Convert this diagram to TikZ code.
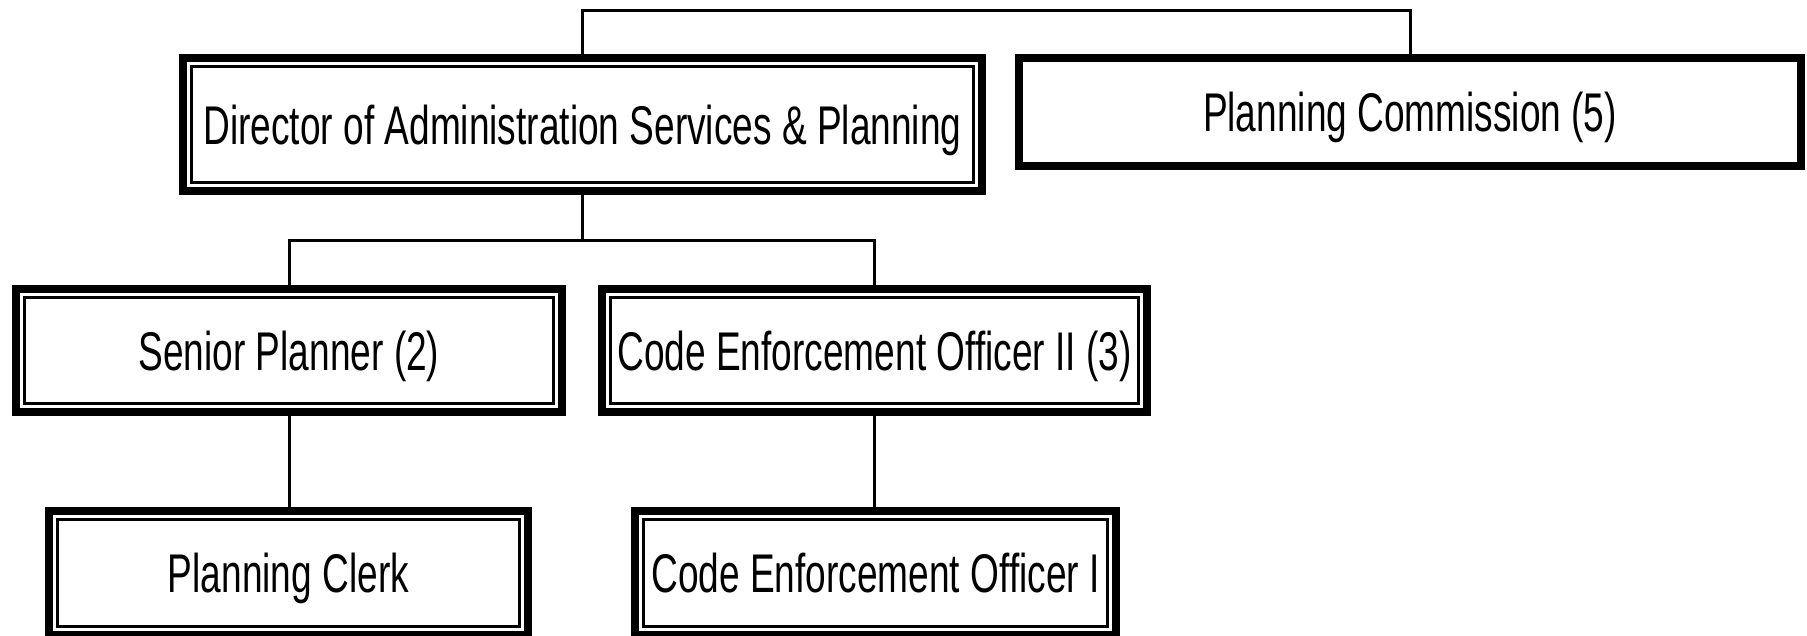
\documentclass[tikz,border=0pt]{standalone}
\usepackage{fontspec}
\setmainfont[FakeStretch=0.68]{Liberation Sans}
\begin{document}
\begin{tikzpicture}[x=1pt,y=-1pt,
  orgbox/.style={draw, line width=8pt, outer sep=0pt, inner sep=0pt,
    text height=39pt, text depth=0pt,
    font=\fontsize{54.5}{60}\selectfont, text=black},
  innerframe/.style={draw, line width=3pt},
  link/.style={draw, line width=3pt}]
\useasboundingbox (0,0) rectangle (1807,635);

% boxes (sizes measured along the centre of the thick outer frame)
\node[orgbox, minimum width=799pt, minimum height=133pt] (dir) at (582.5,124.5)
  {Director of Administration Services \& Planning};
\node[orgbox, minimum width=782pt, minimum height=108pt] (pc) at (1410,112)
  {Planning Commission (5)};
\node[orgbox, minimum width=546pt, minimum height=123pt] (sp) at (289,350.5)
  {Senior Planner (2)};
\node[orgbox, minimum width=545pt, minimum height=123pt] (ceo2) at (874.5,350.5)
  {Code Enforcement Officer II (3)};
\node[orgbox, minimum width=479pt, minimum height=124pt] (clerk) at (288.5,573)
  {Planning Clerk};
\node[orgbox, minimum width=481pt, minimum height=124pt] (ceo1) at (875.5,573)
  {Code Enforcement Officer I};

% thin inner frame of the double-bordered boxes
\foreach \n in {dir,sp,ceo2,clerk,ceo1}
  \draw[innerframe] ([shift={(8.5,8.5)}]\n.north west)
    rectangle ([shift={(-8.5,-8.5)}]\n.south east);

% connectors
\coordinate (top) at (0,10);
\coordinate (mid) at (0,240);
\draw[link] (dir.north) -- (dir.north |- top) -- (pc.north |- top) -- (pc.north);
\draw[link] (dir.south) -- (dir.south |- mid);
\draw[link] (sp.north) -- (sp.north |- mid) -- (ceo2.north |- mid) -- (ceo2.north);
\draw[link] (sp.south) -- (sp.south |- clerk.north);
\draw[link] (ceo2.south) -- (ceo2.south |- ceo1.north);
\end{tikzpicture}
\end{document}
